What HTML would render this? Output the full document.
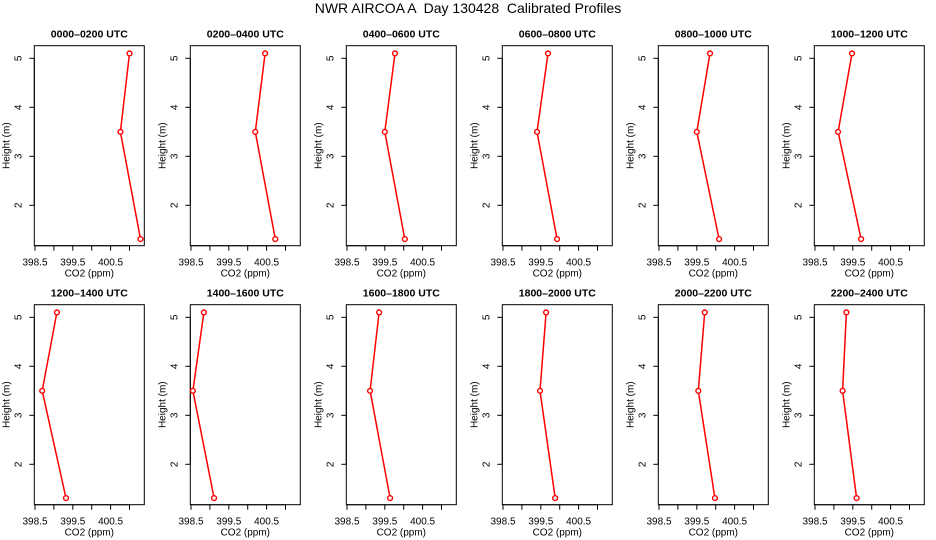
<!DOCTYPE html>
<html><head><meta charset="utf-8"><style>
html,body{margin:0;padding:0;background:#fff;}
svg{display:block;font-family:"Liberation Sans",sans-serif;}
</style></head><body>
<svg id="chart" width="936" height="540" viewBox="0 0 936 540" xmlns="http://www.w3.org/2000/svg">
<text x="468" y="13" text-anchor="middle" font-size="14" style="white-space:pre" xml:space="preserve">NWR AIRCOA A  Day 130428  Calibrated Profiles</text>
</svg>
<script>
const panelTitles = ["0000–0200 UTC","0200–0400 UTC","0400–0600 UTC","0600–0800 UTC","0800–1000 UTC","1000–1200 UTC","1200–1400 UTC","1400–1600 UTC","1600–1800 UTC","1800–2000 UTC","2000–2200 UTC","2200–2400 UTC"];
const heights = [5.1, 3.5, 1.31];
const co2Top = [401.0,400.46,399.77,399.69,399.85,399.48,399.08,398.84,399.35,399.64,399.71,399.33];
const co2Mid = [400.76,400.20,399.5,399.40,399.5,399.11,398.69,398.55,399.11,399.48,399.54,399.23];
const co2Bot = [401.29,400.73,400.03,399.93,400.09,399.72,399.32,399.11,399.64,399.88,399.98,399.60];
const xTicks = [398.5,399,399.5,400,400.5,401];
const xTickLabels = ["398.5","","399.5","","400.5",""];
const yTicks = [2,3,4,5];

const svg = document.getElementById('chart');
const NS = 'http://www.w3.org/2000/svg';
function mk(tag, attrs, parent){const e=document.createElementNS(NS,tag);for(const k in attrs)e.setAttribute(k,attrs[k]);(parent||svg).appendChild(e);return e;}

for(let i=0;i<12;i++){
  const col=i%6, row=Math.floor(i/6);
  const L=34.3+col*156, T=45.7+row*259, R=L+110, B=T+200;
  const xs=v=>35+col*156+(v-398.5)*37.8;
  const ys=h=>T+200+8.6-(h-1)*49;
  const g=mk('g',{});
  
  
  const t=mk('text',{x:(L+R)/2,y:T-8,'text-anchor':'middle','font-size':'10.5','font-weight':'bold'},g);
  
  
  t.textContent=panelTitles[i];
  const box=mk('rect',{x:L,y:T,width:R-L,height:B-T,fill:'none',stroke:'#000','stroke-width':1},g);
  
  
  mk('line',{x1:xs(398.5),x2:xs(401),y1:B,y2:B,stroke:'#000'},g);
  xTicks.forEach((v,k)=>{
    const x=xs(v);
    const tk=mk('line',{x1:x,x2:x,y1:B,y2:B+5,stroke:'#000'},g);
    
    
    if(xTickLabels[k]){const l=mk('text',{x:x,y:B+20,'text-anchor':'middle','font-size':'10'},g);
      
      
      l.textContent=xTickLabels[k];}
  });
  const xl=mk('text',{x:(L+R)/2,y:B+31,'text-anchor':'middle','font-size':'10'},g);
  
  
  xl.textContent='CO2 (ppm)';
  yTicks.forEach(v=>{
    const y=ys(v);
    const tk=mk('line',{x1:L-5,x2:L,y1:y,y2:y,stroke:'#000'},g);
    
    
    const lx=L-13;
    const l=mk('text',{x:lx,y:y,'text-anchor':'middle','font-size':'10',transform:`rotate(-90 ${lx} ${y})`},g);
    
    
    l.textContent=String(v);
  });
  mk('line',{x1:L,x2:L,y1:ys(2),y2:ys(5),stroke:'#000'},g);
  const yx=L-25, yy=(T+B)/2;
  const yl=mk('text',{x:yx,y:yy,'text-anchor':'middle','font-size':'10',transform:`rotate(-90 ${yx} ${yy})`},g);
  
  
  yl.textContent='Height (m)';
  const vals=[co2Top[i],co2Mid[i],co2Bot[i]];
  const pts=vals.map((v,k)=>xs(v).toFixed(1)+','+ys(heights[k]).toFixed(1)).join(' ');
  const pl=mk('polyline',{points:pts,fill:'none',stroke:'#f00','stroke-width':1.5},g);
  
  
  vals.forEach((v,k)=>{
    const c=mk('circle',{cx:xs(v),cy:ys(heights[k]),r:2.4,fill:'#fff',stroke:'#f00','stroke-width':1.4},g);
    
    
  });
}
</script>
</body></html>
